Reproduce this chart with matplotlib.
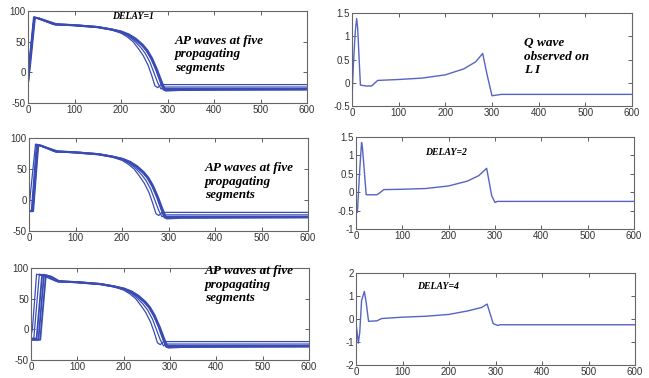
import matplotlib
matplotlib.use("Agg")
import matplotlib.pyplot as plt

# ---------------- data ----------------
x_ticks = [0, 100, 200, 300, 400, 500, 600]
ap_yticks = [-50, 0, 50, 100]
q1_yticks = [-0.5, 0, 0.5, 1, 1.5]
q2_yticks = [-1, -0.5, 0, 0.5, 1, 1.5]
q3_yticks = [-2, -1, 0, 1, 2]

# AP upstroke phase (five segments), DELAY=1
up1_x = [[0, 3, 12, 20], [0, 3, 13, 21], [0, 4, 14, 22], [0, 4, 14, 23], [0, 5, 15, 24]]
up1_y = [[-18, 20, 90, 88], [-18, 20, 90, 88], [-18, 18, 90, 88], [-18, 16, 89, 88], [-18, 14, 89, 88]]
# DELAY=2
up2_x = [[0, 3, 14, 22], [0, 5, 16, 24], [0, 7, 18, 26], [0, 8, 19, 27], [0, 9, 20, 28]]
up2_y = [[-18, 10, 90, 88], [-18, -18, 90, 88], [-18, -18, 89, 88], [-18, -18, 89, 87], [-18, -18, 88, 87]]
# DELAY=4
up3_x = [[0, 3, 12, 30], [0, 6, 18, 34], [0, 12, 24, 38], [0, 16, 28, 40], [0, 20, 32, 44]]
up3_y = [[-10, 0, 90, 86], [-15, -15, 90, 87], [-15, -15, 89, 87], [-17, -17, 89, 86], [-17, -17, 88, 86]]

# AP plateau + repolarisation phase (five segments)
rep_x = [
    [55, 100, 150, 180, 200, 213, 226, 238, 248, 258, 266, 273, 279, 286, 600],
    [57, 100, 150, 180, 200, 214, 228, 242, 252, 262, 271, 279, 286, 293, 600],
    [58, 100, 150, 180, 200, 215, 230, 245, 255, 265, 275, 284, 291, 297, 600],
    [59, 100, 150, 180, 200, 216, 231, 246, 256, 266, 276, 285, 293, 300, 600],
    [60, 100, 150, 180, 200, 217, 232, 247, 257, 267, 278, 288, 296, 325, 600],
]
rep_y = [
    [78, 76, 73, 69, 64, 58, 50, 38, 27, 12, -5, -22, -25, -20, -20],
    [78, 76, 73, 69, 65, 60, 52, 41, 31, 17, -1, -17, -27, -24, -24],
    [78, 77, 74, 70, 66, 61, 54, 44, 35, 22, 5, -14, -28, -27, -27],
    [78, 77, 74, 70, 66, 61, 54, 44, 35, 22, 4, -14, -29, -28, -28],
    [79, 77, 74, 70, 67, 62, 55, 45, 36, 23, 4, -16, -30, -29, -28],
]

# Q wave observed on L I
q1_x = [0, 3, 7, 10, 12, 18, 30, 42, 55, 100, 150, 200, 240, 265, 280, 290, 300, 320, 600]
q1_y = [-0.35, 0.4, 1.1, 1.38, 1.2, -0.05, -0.07, -0.07, 0.05, 0.07, 0.1, 0.17, 0.3, 0.45, 0.63, 0.15, -0.28, -0.25, -0.25]

q2_x = [0, 3, 8, 12, 14, 22, 35, 45, 50, 60, 100, 150, 200, 240, 265, 282, 290, 293, 300, 305, 600]
q2_y = [-0.3, -0.55, 0.6, 1.35, 1.2, -0.07, -0.07, -0.07, -0.03, 0.07, 0.08, 0.1, 0.17, 0.3, 0.45, 0.65, 0.1, -0.1, -0.28, -0.25, -0.25]

q3_x = [0, 2, 5, 8, 12, 18, 22, 27, 45, 55, 100, 150, 200, 240, 270, 282, 295, 305, 310, 600]
q3_y = [-0.2, -0.5, -1.05, -0.6, 0.8, 1.2, 0.7, -0.1, -0.08, 0.02, 0.08, 0.12, 0.2, 0.35, 0.5, 0.65, -0.2, -0.28, -0.25, -0.25]

# ---------------- figure ----------------
W, H = 649, 378
fig = plt.figure(figsize=(W / 100, H / 100), dpi=100)
fig.patch.set_facecolor("white")

def px_axes(l, t, r, b):
    return fig.add_axes([l / W, 1 - b / H, (r - l) / W, (b - t) / H])

ap_color = "#3a4cb4"
q_color = "#5564c4"
tick_font = dict(family=["Liberation Sans", "DejaVu Sans"], size=7)
ann_font = dict(family=["Liberation Serif", "DejaVu Serif"], weight="bold", style="italic")

def style(ax, ylim, yticks):
    ax.set_xlim(0, 600)
    ax.set_ylim(*ylim)
    ax.set_xticks(x_ticks)
    ax.set_yticks(yticks)
    ax.set_xticklabels([f"{v:g}" for v in x_ticks], **tick_font)
    ax.set_yticklabels([f"{v:g}" for v in yticks], **tick_font)
    ax.tick_params(direction="in", length=3, width=0.6, top=True, right=True,
                   pad=1.5, colors="#444444", labelcolor="#333333")
    for s in ax.spines.values():
        s.set_color("#666666")
        s.set_linewidth(0.8)

ap_axes = [px_axes(28, 11, 307, 103), px_axes(29, 138, 308, 231), px_axes(31, 268, 309, 360)]
q_axes = [px_axes(352, 13, 632, 106), px_axes(356, 137, 634, 229), px_axes(356, 273, 635, 365)]

ups = [(up1_x, up1_y), (up2_x, up2_y), (up3_x, up3_y)]
for ax, (ux, uy) in zip(ap_axes, ups):
    for i in range(5):
        xx = ux[i] + rep_x[i]
        yy = uy[i] + rep_y[i]
        ax.plot(xx, yy, color=ap_color, lw=0.9 if i < 2 else 1.3)
    style(ax, (-50, 100), ap_yticks)

q_data = [(q1_x, q1_y, (-0.5, 1.5), q1_yticks),
          (q2_x, q2_y, (-1, 1.5), q2_yticks),
          (q3_x, q3_y, (-2, 2), q3_yticks)]
for ax, (xx, yy, yl, yt) in zip(q_axes, q_data):
    ax.plot(xx, yy, color=q_color, lw=1.0)
    style(ax, yl, yt)

ap_text = "AP waves at five\npropagating\nsegments"
ap_axes[0].text(0.527, 0.74, ap_text, transform=ap_axes[0].transAxes, va="top", ha="left",
                fontsize=9.5, linespacing=1.15, **ann_font)
ap_axes[1].text(0.63, 0.74, ap_text, transform=ap_axes[1].transAxes, va="top", ha="left",
                fontsize=9.5, linespacing=1.15, **ann_font)
ap_axes[2].text(0.625, 1.03, ap_text, transform=ap_axes[2].transAxes, va="top", ha="left",
                fontsize=9.5, linespacing=1.15, clip_on=False, **ann_font)

ap_axes[0].text(0.30, 0.935, "DELAY=1", transform=ap_axes[0].transAxes, va="center", ha="left",
                fontsize=7, **ann_font)
q_axes[1].text(0.25, 0.83, "DELAY=2", transform=q_axes[1].transAxes, va="center", ha="left",
               fontsize=7, **ann_font)
q_axes[2].text(0.22, 0.85, "DELAY=4", transform=q_axes[2].transAxes, va="center", ha="left",
               fontsize=7, **ann_font)
q_axes[0].text(0.614, 0.74, "Q wave\nobserved on\nL I", transform=q_axes[0].transAxes,
               va="top", ha="left", fontsize=9.5, linespacing=1.15, **ann_font)

fig.savefig("out.png", dpi=100)
